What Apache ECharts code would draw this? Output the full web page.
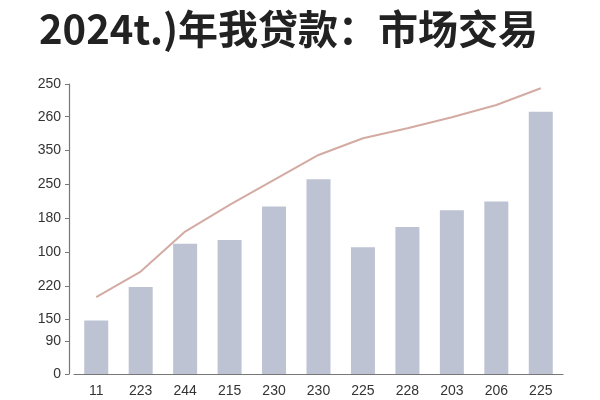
<!DOCTYPE html>
<html>
<head>
<meta charset="utf-8">
<script src="https://cdn.jsdelivr.net/npm/echarts@6/dist/echarts.min.js"></script>
<style>
  html, body { margin: 0; padding: 0; background: #fff; }
  #chart { width: 600px; height: 400px; }
</style>
</head>
<body>
<div id="chart"></div>
<script>
// 数据
var categories = ['11', '223', '244', '215', '230', '230', '225', '228', '203', '206', '225'];
var barValues = [46.2, 74.9, 112.2, 115.6, 144.3, 167.9, 109.3, 126.8, 141.2, 148.6, 226.1];
var lineValues = [66.3, 88.3, 122.8, 145.8, 167.3, 188.8, 203.2, 211.8, 221.3, 231.9, 246.3];
// 纵轴刻度位置与显示文字（原图刻度文字不规则）
var yTickValues = [0, 28.1, 47.4, 76.0, 105.3, 134.3, 163.6, 192.6, 221.8, 250];
var yTickLabels = ['0', '90', '150', '220', '100', '180', '250', '350', '260', '250'];

var myChart = echarts.init(document.getElementById('chart'));
var option = {
    animation: false,
    title: {
        text: '2024t.)年我贷款：市场交易',
        left: 34,
        top: 4,
        textStyle: {
            fontFamily: 'Noto Sans CJK SC',
            fontWeight: 'bold',
            fontSize: 40,
            color: '#222'
        }
    },
    grid: {
        left: 74,
        right: 37,
        top: 84,
        bottom: 26
    },
    xAxis: {
        type: 'category',
        data: categories,
        axisLine: { lineStyle: { color: '#777', width: 1.2 } },
        axisTick: { show: false },
        axisLabel: {
            color: '#333',
            fontSize: 14,
            fontFamily: 'Liberation Sans',
            margin: 10
        }
    },
    yAxis: {
        type: 'value',
        min: 0,
        max: 250,
        offset: 5,
        splitLine: { show: false },
        axisLine: { show: true, lineStyle: { color: '#777', width: 1.2 } },
        axisTick: {
            show: true,
            length: 4,
            customValues: yTickValues,
            lineStyle: { color: '#777' }
        },
        axisLabel: {
            color: '#333',
            fontSize: 14,
            fontFamily: 'Liberation Sans',
            margin: 8,
            customValues: yTickValues,
            formatter: function (value) {
                var i = yTickValues.indexOf(value);
                return i >= 0 ? yTickLabels[i] : '';
            }
        }
    },
    series: [
        {
            type: 'bar',
            data: barValues,
            barWidth: 24,
            itemStyle: { color: '#bec3d3' }
        },
        {
            type: 'line',
            data: lineValues,
            symbol: 'none',
            lineStyle: { color: '#d3aba3', width: 2 },
            itemStyle: { color: '#d3aba3' }
        }
    ]
};
myChart.setOption(option);
</script>
</body>
</html>
